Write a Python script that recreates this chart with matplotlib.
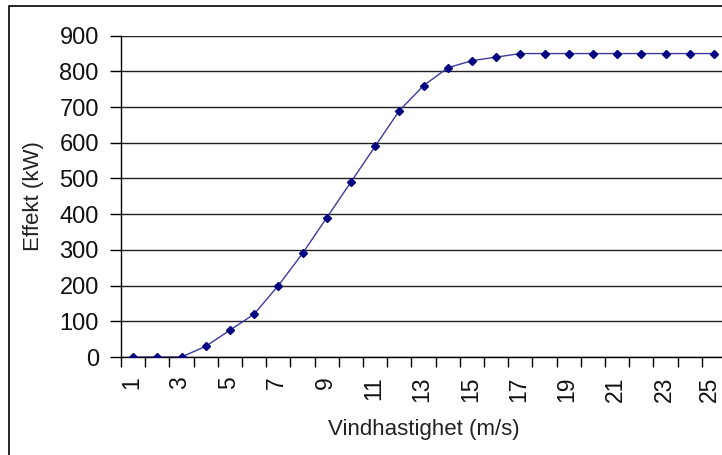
import numpy as np
import matplotlib
matplotlib.use("Agg")
import matplotlib.pyplot as plt
from matplotlib.patches import Rectangle
from matplotlib.transforms import ScaledTranslation

# power curve: wind speed (m/s) vs output (kW)
wind_speed = list(range(1, 26))
power_kw = [0, 0, 0, 30, 75, 120, 200, 290, 390, 490, 590, 690, 760,
            810, 830, 840, 850, 850, 850, 850, 850, 850, 850, 850, 850]
y_ticks = [0, 100, 200, 300, 400, 500, 600, 700, 800, 900]

plt.rcParams['font.family'] = ['Liberation Sans', 'DejaVu Sans']

W, H = 722, 455
fig = plt.figure(figsize=(W / 100, H / 100), dpi=100)

# plot area runs a little past the right edge of the figure
left, right, top, bottom = 121, 726, 35.7, 357
ax = fig.add_axes([left / W, 1 - bottom / H, (right - left) / W, (bottom - top) / H])

x = np.arange(len(wind_speed))
ax.plot(x, power_kw, color='#3a3aa0', lw=1.0, marker='D', markersize=4,
        markerfacecolor='#000080', markeredgecolor='#000080', zorder=3)

ax.set_xlim(-0.5, len(wind_speed) - 0.5)
ax.set_ylim(0, 900)

ax.set_yticks(y_ticks)
ax.set_yticklabels([str(v) for v in y_ticks])
ax.yaxis.grid(True, color='#222222', lw=1.0)
ax.set_axisbelow(True)

# category ticks sit between the points, labels on every other one
ax.set_xticks(np.arange(len(wind_speed) + 1) - 0.5)
ax.set_xticklabels([])
ax.set_xticks(x[::2], minor=True)
ax.set_xticklabels([str(v) for v in wind_speed[::2]], minor=True, rotation=90)
ax.tick_params(axis='x', which='major', direction='out', length=7, width=1)
ax.tick_params(axis='x', which='minor', length=0, pad=14, labelsize=16.5,
               labelcolor='#111111')
ax.tick_params(axis='y', direction='out', length=8, width=1, pad=8, labelsize=17,
               labelcolor='#111111')
xlabels = ax.get_xticklabels(minor=True)
for i, lbl in enumerate(xlabels):
    dx = -1.5 if i < len(xlabels) - 1 else -4.5  # keep the last one inside the frame
    lbl.set_transform(lbl.get_transform() + ScaledTranslation(dx / 100, 0, fig.dpi_scale_trans))

for s in ('top', 'right'):
    ax.spines[s].set_visible(False)
for s in ('left', 'bottom'):
    ax.spines[s].set_color('black')
    ax.spines[s].set_linewidth(1.0)

fig.text(33 / W, 1 - 196 / H, 'Effekt (kW)', rotation=90, fontsize=16,
         ha='center', va='center', color='#222222')
fig.text(424 / W, 1 - 430 / H, 'Vindhastighet (m/s)', fontsize=16,
         ha='center', va='center', color='#222222')

# outer chart frame
fig.add_artist(Rectangle((9 / W, -0.05), 1.2, 1 - 6 / H + 0.05,
                         transform=fig.transFigure, fill=False,
                         edgecolor='black', lw=1.2))

fig.savefig('out.png', dpi=100)
